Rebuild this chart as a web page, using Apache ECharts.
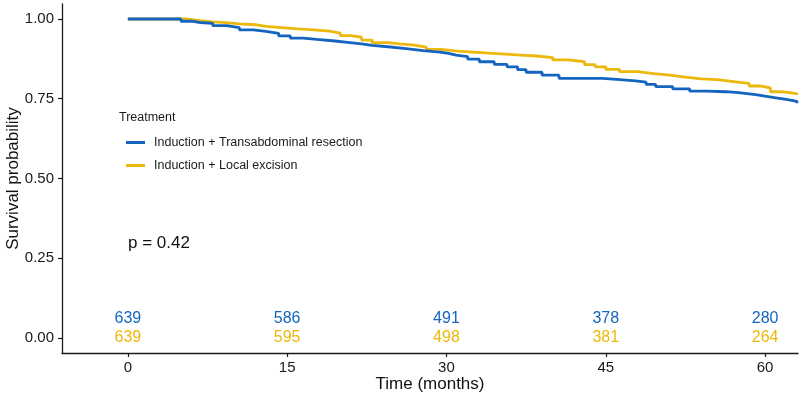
<!DOCTYPE html>
<html>
<head>
<meta charset="utf-8">
<script src="https://cdn.jsdelivr.net/npm/echarts@6/dist/echarts.min.js"></script>
<style>
  html, body { margin: 0; padding: 0; background: #fff; }
  #app { width: 800px; height: 400px; }
</style>
</head>
<body>
<div id="app"></div>
<script>
// KM curve readings, [months, survival]
var transabdominal = [
  [0, 1], [4.2, 1], [5, 0.993], [6, 0.989], [6.8, 0.986], [8, 0.979], [9.3, 0.973],
  [10.5, 0.966], [11.8, 0.961], [13, 0.955], [14.2, 0.947], [15.3, 0.940], [16.5, 0.936],
  [17.8, 0.931], [19.5, 0.926], [20.9, 0.922], [22, 0.917], [23, 0.913], [24.5, 0.907],
  [26.2, 0.901], [27.8, 0.896], [29.4, 0.892], [30.2, 0.887], [30.9, 0.882], [32, 0.874],
  [33.1, 0.866], [34.5, 0.858], [35.7, 0.850], [36.7, 0.841], [37.5, 0.833], [39, 0.824],
  [40.6, 0.814], [43, 0.814], [44.7, 0.811], [46, 0.806], [47.8, 0.802], [48.8, 0.795],
  [49.7, 0.788], [51.3, 0.781], [52.9, 0.774], [54.5, 0.772], [56.3, 0.769], [57.5, 0.763],
  [59.1, 0.758], [60, 0.753], [61, 0.748], [62, 0.742], [63, 0.736]
];
var localExcision = [
  [0, 1], [4.5, 1], [5.5, 0.995], [6.8, 0.991], [8, 0.988], [9.5, 0.985], [10.5, 0.982],
  [12, 0.977], [13, 0.973], [14.5, 0.969], [16, 0.966], [17.5, 0.962], [19, 0.956],
  [20, 0.948], [21, 0.943], [22, 0.934], [23, 0.926], [24.5, 0.922], [25.6, 0.918],
  [27, 0.912], [28.1, 0.905], [29.5, 0.899], [31, 0.896], [32.5, 0.893], [34, 0.890],
  [35.5, 0.887], [37, 0.884], [38.5, 0.879], [40, 0.872], [41.5, 0.866], [43, 0.857],
  [44, 0.850], [45, 0.842], [46.3, 0.835], [48, 0.829], [49.5, 0.824], [51, 0.818],
  [52.5, 0.812], [54, 0.810], [55.5, 0.804], [57, 0.798], [58.5, 0.790], [59.5, 0.784],
  [60.5, 0.772], [61.5, 0.766], [63, 0.762]
];

var riskTimes = [0, 15, 30, 45, 60];
var riskTransabdominal = [639, 586, 491, 378, 280];
var riskLocal = [639, 595, 498, 381, 264];
var xTicks = [0, 15, 30, 45, 60];
var yTicks = [0, 0.25, 0.5, 0.75, 1];

var names = ['Induction + Transabdominal resection', 'Induction + Local excision'];
var colors = ['#1565C0', '#EDB80C'];
var font = 'Liberation Sans, Arial, sans-serif';

var chart = echarts.init(document.getElementById('app'), null, { renderer: 'canvas' });

function riskSeries(vals, yPos, color) {
  return {
    type: 'scatter',
    symbolSize: 0,
    itemStyle: { color: 'rgba(0,0,0,0)', opacity: 1 },
    silent: true,
    data: riskTimes.map(function (t, i) { return [t, yPos, vals[i]]; }),
    label: {
      show: true,
      position: 'inside',
      color: color,
      opacity: 1,
      textBorderWidth: 0,
      fontFamily: font,
      fontSize: 16,
      formatter: function (p) { return String(p.value[2]); }
    },
    labelLayout: { hideOverlap: false },
    z: 5
  };
}

var option = {
  animation: false,
  backgroundColor: '#fff',
  grid: { left: 62, right: 2, top: 4, bottom: 47, containLabel: false, outerBoundsMode: 'none' },
  xAxis: {
    type: 'value',
    min: -6.2,
    max: 63.1,
    name: 'Time (months)',
    nameLocation: 'middle',
    nameGap: 23,
    nameMoveOverlap: false,
    nameTextStyle: { fontFamily: font, fontSize: 17, color: '#111' },
    axisLine: { show: true, onZero: false, lineStyle: { color: '#1a1a1a', width: 1.3 } },
    axisTick: { show: true, length: 4, customValues: xTicks, lineStyle: { color: '#1a1a1a', width: 1.2 } },
    axisLabel: { customValues: xTicks, margin: 7, fontFamily: font, fontSize: 15, color: '#1a1a1a' },
    splitLine: { show: false }
  },
  yAxis: {
    type: 'value',
    min: -0.047,
    max: 1.047,
    name: 'Survival probability',
    nameLocation: 'middle',
    nameRotate: 90,
    nameGap: 40,
    nameMoveOverlap: false,
    nameTextStyle: { fontFamily: font, fontSize: 17, color: '#111' },
    axisLine: { show: true, onZero: false, lineStyle: { color: '#1a1a1a', width: 1.3 } },
    axisTick: { show: true, length: 4, customValues: yTicks, lineStyle: { color: '#1a1a1a', width: 1.2 } },
    axisLabel: {
      customValues: yTicks, margin: 8, fontFamily: font, fontSize: 15, color: '#1a1a1a',
      formatter: function (v) { return v.toFixed(2); }
    },
    splitLine: { show: false }
  },
  legend: {
    data: names.map(function (n, i) { return { name: n, icon: 'rect', itemStyle: { color: colors[i] } }; }),
    orient: 'vertical',
    left: 121,
    top: 130,
    itemWidth: 19,
    itemHeight: 3,
    itemGap: 8,
    textStyle: { fontFamily: font, fontSize: 12.5, color: '#1a1a1a', padding: [0, 0, 0, 4], lineHeight: 15 }
  },
  graphic: [
    {
      type: 'text', left: 119, top: 111,
      style: { text: 'Treatment', font: '12.5px Liberation Sans, Arial, sans-serif', fill: '#1a1a1a' }
    },
    {
      type: 'text', left: 128, top: 235,
      style: { text: 'p = 0.42', font: '17px Liberation Sans, Arial, sans-serif', fill: '#111' }
    }
  ],
  series: [
    {
      name: names[0], type: 'line', step: 'end', showSymbol: false, symbol: 'none',
      data: transabdominal, color: colors[0],
      lineStyle: { width: 2.8, color: colors[0] }, z: 3
    },
    {
      name: names[1], type: 'line', step: 'end', showSymbol: false, symbol: 'none',
      data: localExcision, color: colors[1],
      lineStyle: { width: 2.8, color: colors[1] }, z: 2
    },
    riskSeries(riskTransabdominal, 0.06, colors[0]),
    riskSeries(riskLocal, 0, colors[1])
  ]
};

chart.setOption(option);
</script>
</body>
</html>
